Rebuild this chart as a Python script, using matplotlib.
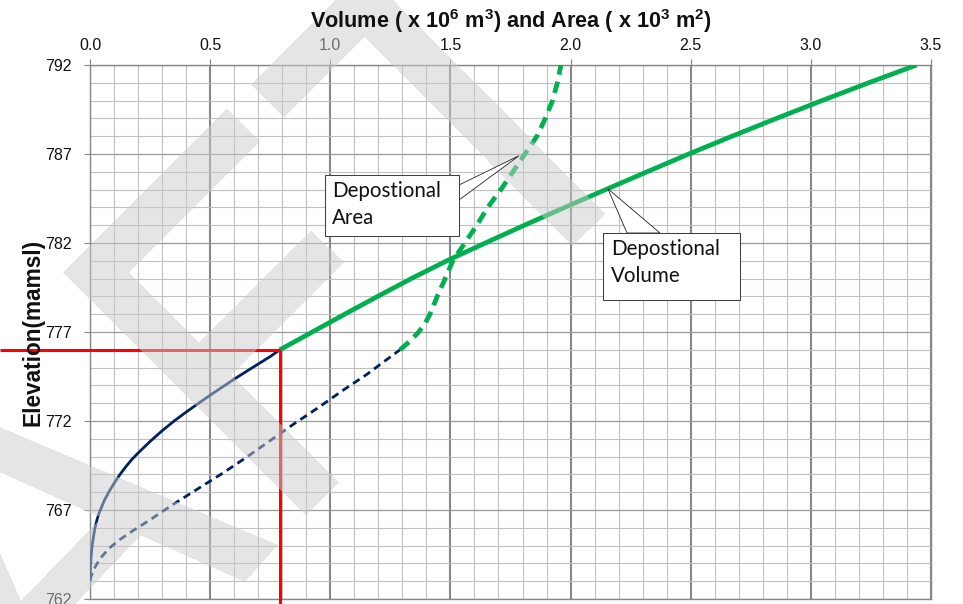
import numpy as np
import matplotlib
matplotlib.use('Agg')
import matplotlib.pyplot as plt
from matplotlib.patches import Polygon, Rectangle
from matplotlib.path import Path

# ---------------- data ----------------
# Depositional volume (x 10^6 m3) vs elevation (mamsl), below the red reference level
vol_low = [0.0, 0.002, 0.005, 0.01, 0.02, 0.03, 0.04, 0.06, 0.08, 0.10, 0.125, 0.15, 0.175,
           0.20, 0.25, 0.30, 0.35, 0.40, 0.45, 0.50, 0.55, 0.60, 0.65, 0.70, 0.75, 0.79]
vol_elev_low = [763.0, 763.8, 764.45, 765.1, 765.95, 766.5, 766.9, 767.55, 768.05, 768.5, 769.0,
                769.45, 769.85, 770.2, 770.85, 771.45, 772.0, 772.5, 772.98, 773.45, 773.9,
                774.35, 774.78, 775.2, 775.62, 776.0]
# above the red reference level
vol_elev_high = [776, 777, 778, 779, 780, 781, 782, 783, 784, 785, 786, 787, 788, 789, 790, 791, 792]
vol_high = [0.79, 0.925, 1.06, 1.197, 1.337, 1.485, 1.645, 1.808, 1.976, 2.146, 2.318, 2.492,
            2.672, 2.857, 3.046, 3.24, 3.44]

# Depositional area (x 10^3 m2) vs elevation (mamsl)
area_low = [0.0, 0.005, 0.015, 0.03, 0.05, 0.08, 0.12, 0.18, 0.25, 0.35, 0.45, 0.55, 0.65,
            0.75, 0.85, 0.95, 1.05, 1.15, 1.29]
area_elev_low = [763.05, 763.3, 763.65, 764.0, 764.4, 764.85, 765.3, 765.85, 766.45, 767.35,
                 768.2, 769.05, 769.95, 770.9, 771.85, 772.75, 773.7, 774.6, 776.0]
area_elev_high = [776, 776.5, 777, 777.5, 778, 778.5, 779, 780, 781, 782, 783, 784, 785, 786,
                  787, 788, 789, 790, 791, 792]
area_high = [1.29, 1.333, 1.368, 1.395, 1.415, 1.43, 1.445, 1.478, 1.51, 1.56, 1.61, 1.655,
             1.71, 1.76, 1.81, 1.86, 1.895, 1.925, 1.945, 1.96]

target_volume = 0.79
target_elev = 776

x_ticks = [0.0, 0.5, 1.0, 1.5, 2.0, 2.5, 3.0, 3.5]
x_tick_labels = ['0.0', '0.5', '1.0', '1.5', '2.0', '2.5', '3.0', '3.5']
y_ticks = [762, 767, 772, 777, 782, 787, 792]
y_tick_labels = ['762', '767', '772', '777', '782', '787', '792']

area_label = 'Depostional\nArea'
volume_label = 'Depostional\nVolume'
area_anchor = (1.785, 786.9)
volume_anchor = (2.155, 785.05)

# ---------------- style ----------------
W, H = 963, 604
plt.rcParams['font.family'] = ['Liberation Sans', 'DejaVu Sans']
plt.rcParams['mathtext.fontset'] = 'custom'
plt.rcParams['mathtext.rm'] = 'Liberation Sans'
plt.rcParams['mathtext.bf'] = 'Liberation Sans:bold'

NAVY = '#002060'
GREEN = '#00B050'

fig = plt.figure(figsize=(W / 100, H / 100), dpi=100)
fig.patch.set_facecolor('white')


def fx(x, y):
    return (x / W, 1 - y / H)


ax = fig.add_axes([90 / W, 1 - 599 / H, (931 - 90) / W, (599 - 65) / H])
ax.set_xlim(0, 3.5)
ax.set_ylim(762, 792)

ax.xaxis.tick_top()
ax.set_xticks(x_ticks)
ax.set_xticklabels(x_tick_labels)
ax.set_yticks(y_ticks)
ax.set_yticklabels(y_tick_labels)
ax.set_xticks(np.arange(0, 3.5001, 0.1), minor=True)
ax.set_yticks(np.arange(762, 792.001, 1), minor=True)
ax.tick_params(which='minor', length=0)
ax.tick_params(which='major', length=4, color='#868686', labelsize=11.5, labelcolor='#111111')
ax.tick_params(axis='x', pad=5)
ax.tick_params(axis='y', pad=9)

ax.set_axisbelow(True)
ax.grid(which='minor', axis='both', color='#c0c0c0', lw=0.8)
ax.grid(which='major', axis='x', color='#878787', lw=1.5)
ax.grid(which='major', axis='y', color='#9a9a9a', lw=0.9)
for s in ax.spines.values():
    s.set_color('#878787')
    s.set_linewidth(1.0)

# curves
ax.plot(vol_low, vol_elev_low, color=NAVY, lw=2.0, solid_capstyle='butt',
        solid_joinstyle='round', zorder=3)
ax.plot(vol_high, vol_elev_high, color=GREEN, lw=3.4, solid_capstyle='butt',
        solid_joinstyle='round', zorder=3)
ax.plot(area_low, area_elev_low, color=NAVY, lw=2.0, linestyle=(0, (2.8, 1.8)),
        dash_capstyle='butt', zorder=3)
ax.plot(area_high, area_elev_high, color=GREEN, lw=3.4, linestyle=(0, (2.5, 1.5)),
        dash_capstyle='butt', zorder=3)

# red reference lines (extend beyond axes)
inv = ax.transData.inverted()
x_left = inv.transform((0, 0))[0]
y_bottom = inv.transform((0, -5))[1]
ax.plot([x_left, target_volume], [target_elev, target_elev], color='#FF0000', lw=2.2,
        clip_on=False, solid_capstyle='butt', zorder=4)
ax.plot([target_volume, target_volume], [target_elev, y_bottom], color='#FF0000', lw=2.2,
        clip_on=False, solid_capstyle='butt', zorder=4)

# ---------------- watermark ----------------
def band(p0, p1, hw):
    p0 = np.array(p0, float); p1 = np.array(p1, float)
    d = p1 - p0; d /= np.hypot(*d)
    n = np.array([-d[1], d[0]]) * hw
    return [p0 + n, p1 + n, p1 - n, p0 - n]

hw = 23
s2 = np.sqrt(0.5)
polys = [
    band((267.5, 101), (364.5 + hw * s2, 4 - hw * s2), hw),
    band((364.5 - hw * s2, 4 - hw * s2), (589, 230), hw),
    band((243.5, 125), (96 - hw * s2, 272.5 + hw * s2), hw),
    band((96 - hw * s2, 272.5 - hw * s2), (322.5, 499), hw),
    band((199, 375.5), (327.5, 246.5), hw),
    [(-50, 406), (278, 545), (245, 582), (-50, 450)],
    [(103, 516), (142, 534), (60, 620), (22, 604), (18, 604)],
    [(0, 553), (25, 610), (0, 610)],
]
yy, xx = np.mgrid[0:H, 0:W]
pts = np.column_stack([xx.ravel() + 0.5, yy.ravel() + 0.5])
mask = np.zeros(H * W, bool)
for p in polys:
    mask |= Path(np.array(p, float)).contains_points(pts)
mask = mask.reshape(H, W)
img = np.zeros((H, W, 4))
img[..., :3] = 0.80
img[..., 3] = mask * 0.5
fig.figimage(img, 0, 0, origin='upper', zorder=5)

# ---------------- callouts ----------------
def callout(box, base, anchor, text, text_xy, z=7):
    ax_px = ax.transData.transform(anchor)
    apex = fig.transFigure.inverted().transform(ax_px)
    tri = Polygon([fx(*base[0]), tuple(apex), fx(*base[1])], closed=True,
                  facecolor='white', edgecolor='#222222', lw=0.6,
                  transform=fig.transFigure, zorder=z)
    fig.patches.append(tri)
    x0, y0, x1, y1 = box
    bx, by = fx(x0, y1)
    rect = Rectangle((bx, by), (x1 - x0) / W, (y1 - y0) / H, facecolor='white',
                     edgecolor='#404040', lw=0.75, transform=fig.transFigure, zorder=z + 0.1)
    fig.patches.append(rect)
    tx, ty = fx(*text_xy)
    fig.text(tx, ty, text, ha='left', va='top', fontsize=14.8, family=['Lato', 'DejaVu Sans'],
             linespacing=1.42, color='#111111', zorder=z + 0.2)

callout((325, 175, 459, 236), [(459, 200), (459, 185)], area_anchor, area_label, (332, 181))
callout((603, 233, 740, 300), [(627, 233), (660, 233)], volume_anchor, volume_label, (611, 239))

# ---------------- titles ----------------
fig.text(510.5 / W, 1 - 21 / H,
         r'Volume ( x 10$^{\mathbf{6}}$ m$^{\mathbf{3}}$) and Area ( x 10$^{\mathbf{3}}$ m$^{\mathbf{2}}$)',
         ha='center', va='center', fontsize=15.6, weight='bold', color='#111111', zorder=10)
fig.text(33 / W, 1 - 332 / H, 'Elevation(mamsl)', rotation=90, ha='center', va='center',
         fontsize=16.3, weight='bold', color='#111111', zorder=10)

fig.savefig('out.png', dpi=100, facecolor='white')
